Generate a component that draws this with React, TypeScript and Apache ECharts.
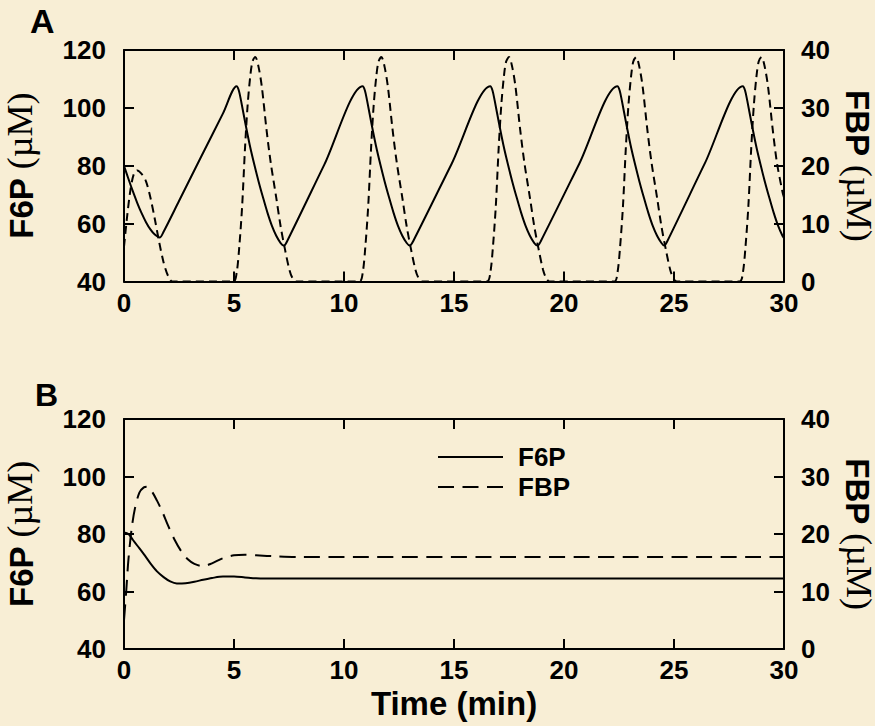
import { useEffect, useRef } from 'react';
import * as echarts from 'echarts';

// Panel A: oscillating glycolysis, [time (min), concentration (µM)]
const oscF6P: [number, number][] = [
  [0, 80], [0.2, 75.5], [0.4, 71.2], [0.6, 67.2], [0.8, 63.6], [1.0, 60.5], [1.2, 58], [1.4, 56.2],
  [1.62, 55.2], [1.8, 57.2], [2.5, 67.8], [3.5, 83], [4.5, 98.1], [5.12, 107.5],
  [5.22, 106], [5.32, 102.5], [5.52, 94.5], [5.72, 87], [5.92, 80.5], [6.12, 74.5], [6.32, 69], [6.52, 63.8],
  [6.72, 59.3], [6.92, 55.8], [7.12, 53.3], [7.27, 52.4], [7.42, 54], [9.1, 80.3], [10.85, 107.5],
  [10.95, 106], [11.05, 102.5], [11.25, 94.5], [11.45, 87], [11.65, 80.5], [11.85, 74.5], [12.05, 69], [12.25, 63.8],
  [12.45, 59.3], [12.65, 55.8], [12.85, 53.3], [12.99, 52.4], [13.15, 54], [14.9, 80.8], [16.65, 107.5],
  [16.75, 106], [16.85, 102.5], [17.05, 94.5], [17.25, 87], [17.45, 80.5], [17.65, 74.5], [17.85, 69], [18.05, 63.8],
  [18.25, 59.3], [18.45, 55.8], [18.65, 53.3], [18.8, 52.4], [18.95, 54], [20.7, 80.8], [22.43, 107.5],
  [22.53, 106], [22.63, 102.5], [22.83, 94.5], [23.03, 87], [23.23, 80.5], [23.43, 74.5], [23.63, 69], [23.83, 63.8],
  [24.03, 59.3], [24.23, 55.8], [24.43, 53.3], [24.55, 52.4], [24.7, 54], [26.4, 80.8], [28.13, 107.5],
  [28.23, 106], [28.33, 102.5], [28.53, 94.5], [28.73, 87], [28.93, 80.5], [29.13, 74.5], [29.33, 69], [29.53, 63.8],
  [29.73, 59.3], [29.93, 55.8], [30, 55],
];

const oscFBP: [number, number][] = [
  [0, 6], [0.15, 11.5], [0.3, 16], [0.45, 18.6], [0.6, 19.2], [0.8, 18.6], [1.0, 17.3], [1.2, 14.5],
  [1.4, 10.8], [1.6, 6.8], [1.8, 3.3], [2.0, 1], [2.2, 0],
  [4.97, 0], [5.12, 1.5], [5.24, 6], [5.37, 13], [5.5, 23], [5.62, 30.5], [5.74, 35.5], [5.84, 38], [5.97, 38.8],
  [6.12, 37], [6.27, 33.5], [6.47, 26.5], [6.67, 20.5], [6.92, 14.5], [7.12, 9.5], [7.32, 5.5], [7.52, 2], [7.67, 0.5], [7.82, 0],
  [10.7, 0], [10.85, 1.5], [10.97, 6], [11.1, 13], [11.23, 23], [11.35, 30.5], [11.47, 35.5], [11.57, 38], [11.7, 38.8],
  [11.85, 37], [12.0, 33.5], [12.2, 26.5], [12.4, 20.5], [12.65, 14.5], [12.85, 9.5], [13.05, 5.5], [13.25, 2], [13.4, 0.5], [13.55, 0],
  [16.5, 0], [16.65, 1.5], [16.77, 6], [16.9, 13], [17.03, 23], [17.15, 30.5], [17.27, 35.5], [17.37, 38], [17.5, 38.8],
  [17.65, 37], [17.8, 33.5], [18.0, 26.5], [18.2, 20.5], [18.45, 14.5], [18.65, 9.5], [18.85, 5.5], [19.05, 2], [19.2, 0.5], [19.35, 0],
  [22.28, 0], [22.43, 1.5], [22.55, 6], [22.68, 13], [22.81, 23], [22.93, 30.5], [23.05, 35.5], [23.15, 38], [23.28, 38.8],
  [23.43, 37], [23.58, 33.5], [23.78, 26.5], [23.98, 20.5], [24.23, 14.5], [24.43, 9.5], [24.63, 5.5], [24.83, 2], [24.98, 0.5], [25.13, 0],
  [27.98, 0], [28.13, 1.5], [28.25, 6], [28.38, 13], [28.51, 23], [28.63, 30.5], [28.75, 35.5], [28.85, 38], [28.98, 38.8],
  [29.13, 37], [29.28, 33.5], [29.48, 26.5], [29.68, 20.5], [29.93, 15.5], [30, 14.5],
];

// Panel B: damped approach to steady state
const steadyF6P: [number, number][] = [
  [0, 80.5], [0.2, 80], [0.4, 78], [0.6, 76], [0.9, 73], [1.2, 69.8], [1.5, 67], [1.8, 65], [2.1, 63.5],
  [2.4, 62.8], [2.8, 62.9], [3.2, 63.4], [3.6, 64.1], [4.0, 64.7], [4.5, 65.2], [5.0, 65.2], [5.5, 64.9],
  [6.0, 64.6], [7.0, 64.5], [30, 64.5],
];

const steadyFBP: [number, number][] = [
  [0, 5], [0.1, 10], [0.2, 15.5], [0.35, 21], [0.5, 24.5], [0.7, 27.2], [0.9, 28.1], [1.05, 28.2], [1.25, 27.5],
  [1.5, 25.8], [1.75, 23.8], [2.0, 21.5], [2.3, 19], [2.6, 17], [2.9, 15.6], [3.2, 14.8], [3.6, 14.4], [4.0, 14.9],
  [4.5, 15.8], [5.0, 16.3], [5.5, 16.4], [6.0, 16.3], [7.0, 16.1], [8.0, 16], [30, 16],
];

const legendNames = ['F6P', 'FBP'];
const panelLetters = ['A', 'B'];

const BG = '#f8eed5';
const INK = '#000';
const SANS = 'Liberation Sans';
const SERIF = 'Liberation Serif';

const axisLine = { show: true, onZero: false, lineStyle: { color: INK, width: 2 } };
const axisTick = { show: true, inside: true, length: 10, lineStyle: { color: INK, width: 2 } };
const tickFont = { color: INK, fontSize: 26, fontWeight: 'bold' as const, fontFamily: SANS };

const unitName = (label: string) => `{a|${label} }{b|(µM)}`;
const nameStyle = {
  color: INK,
  lineHeight: 32,
  rich: {
    a: { fontFamily: SANS, fontWeight: 'bold', fontSize: 33, color: INK, lineHeight: 32, verticalAlign: 'bottom' },
    b: { fontFamily: SERIF, fontSize: 36, color: INK, lineHeight: 32, verticalAlign: 'bottom' },
  },
};

function timeAxis(grid: number, bottom: boolean, withName: boolean) {
  return {
    type: 'value',
    gridIndex: grid,
    position: bottom ? 'bottom' : 'top',
    min: 0,
    max: 30,
    interval: 5,
    axisLine,
    axisTick,
    splitLine: { show: false },
    axisLabel: bottom ? { ...tickFont, margin: 9, lineHeight: 24 } : { show: false },
    name: withName ? 'Time (min)' : '',
    nameLocation: 'middle',
    nameGap: 39,
    nameTextStyle: { color: INK, fontSize: 33, fontWeight: 'bold', fontFamily: SANS, lineHeight: 30 },
  };
}

function f6pAxis(grid: number) {
  return {
    type: 'value',
    gridIndex: grid,
    position: 'left',
    min: 40,
    max: 120,
    interval: 20,
    axisLine,
    axisTick,
    splitLine: { show: false },
    axisLabel: { ...tickFont, margin: 18 },
    name: unitName('F6P'),
    nameLocation: 'middle',
    nameRotate: 90,
    nameGap: 86,
    nameTextStyle: nameStyle,
  };
}

function fbpAxis(grid: number) {
  return {
    type: 'value',
    gridIndex: grid,
    position: 'right',
    min: 0,
    max: 40,
    interval: 10,
    axisLine,
    axisTick,
    splitLine: { show: false },
    axisLabel: { ...tickFont, margin: 17 },
    name: unitName('FBP'),
    nameLocation: 'middle',
    nameRotate: -90,
    nameGap: 54,
    nameTextStyle: nameStyle,
  };
}

function lineSeries(name: string, data: [number, number][], xi: number, yi: number, dash?: number[]) {
  return {
    name,
    type: 'line',
    xAxisIndex: xi,
    yAxisIndex: yi,
    data,
    symbol: 'none',
    smooth: 0.3,
    clip: true,
    lineStyle: { color: INK, width: 2, type: dash ?? 'solid' },
    itemStyle: { color: INK },
  };
}

const option = {
  animation: false,
  backgroundColor: BG,
  textStyle: { fontFamily: SANS },
  grid: [
    { left: 124, top: 50, width: 660, height: 231.5, outerBoundsMode: 'none', containLabel: false },
    { left: 124, top: 419, width: 660, height: 230, outerBoundsMode: 'none', containLabel: false },
  ],
  xAxis: [timeAxis(0, true, false), timeAxis(0, false, false), timeAxis(1, true, true), timeAxis(1, false, false)],
  yAxis: [f6pAxis(0), fbpAxis(0), f6pAxis(1), fbpAxis(1)],
  legend: {
    data: legendNames,
    orient: 'vertical',
    left: 437,
    top: 444,
    padding: 0,
    itemWidth: 65,
    itemHeight: 14,
    itemGap: 4,
    selectedMode: false,
    // line-only keys: hide the marker the line icon carries
    itemStyle: { color: 'rgba(0,0,0,0)', borderWidth: 0, opacity: 0 },
    textStyle: { color: INK, fontSize: 26, fontWeight: 'bold', fontFamily: SANS, padding: [0, 0, 0, 10] },
  },
  series: [
    // steady-state panel first so the legend takes its line styles
    lineSeries('F6P', steadyF6P, 2, 2),
    lineSeries('FBP', steadyFBP, 2, 3, [16, 8.5]),
    lineSeries('F6P', oscF6P, 0, 0),
    lineSeries('FBP', oscFBP, 0, 1, [8, 5]),
  ],
  graphic: [
    { type: 'text', left: 30, top: 4, style: { text: panelLetters[0], font: `bold 34px ${SANS}`, fill: INK } },
    { type: 'text', left: 35, top: 379, style: { text: panelLetters[1], font: `bold 32px ${SANS}`, fill: INK } },
  ],
};

export default function App() {
  const ref = useRef<HTMLDivElement>(null);
  useEffect(() => {
    document.body.style.margin = '0';
    const chart = echarts.init(ref.current!, null, { renderer: 'svg' });
    chart.setOption(option as any);
    return () => chart.dispose();
  }, []);
  return (
    <div
      ref={ref}
      style={{ position: 'absolute', left: 0, top: 0, width: 875, height: 726, background: BG }}
    />
  );
}
